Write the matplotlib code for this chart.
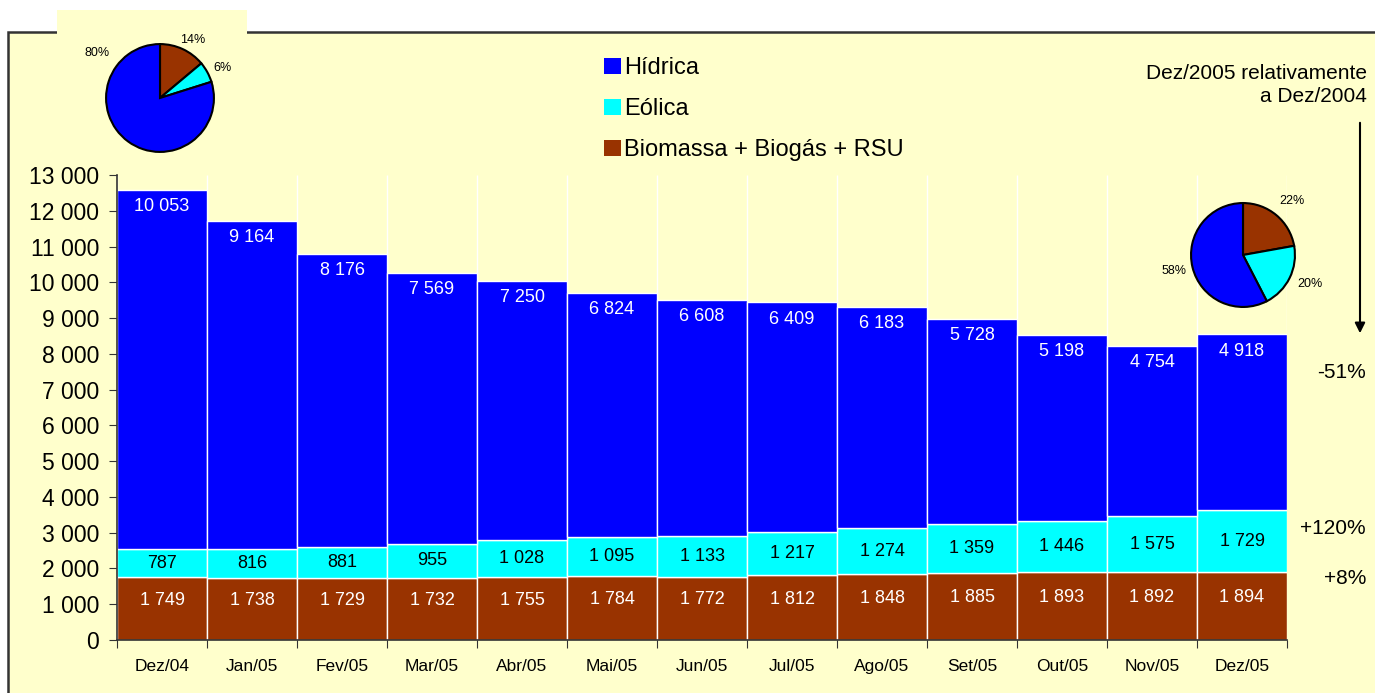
import numpy as np
import matplotlib
matplotlib.use("Agg")
import matplotlib.pyplot as plt
from matplotlib.patches import Rectangle, Patch
from matplotlib.ticker import FuncFormatter

plt.rcParams['font.family'] = ['Liberation Sans', 'DejaVu Sans']

months = ["Dez/04", "Jan/05", "Fev/05", "Mar/05", "Abr/05", "Mai/05", "Jun/05",
          "Jul/05", "Ago/05", "Set/05", "Out/05", "Nov/05", "Dez/05"]
biomassa = [1749, 1738, 1729, 1732, 1755, 1784, 1772, 1812, 1848, 1885, 1893, 1892, 1894]
eolica = [787, 816, 881, 955, 1028, 1095, 1133, 1217, 1274, 1359, 1446, 1575, 1729]
hidrica = [10053, 9164, 8176, 7569, 7250, 6824, 6608, 6409, 6183, 5728, 5198, 4754, 4918]
names = ["Hídrica", "Eólica", "Biomassa + Biogás + RSU"]

BG = "#FFFFCC"
C_HID = "#0000FF"
C_EOL = "#00FFFF"
C_BIO = "#993300"

W, H = 1375, 693
fig = plt.figure(figsize=(W / 100, H / 100), dpi=100, facecolor="white")

# background panel with border, plus the tab holding the first pie
fig.patches.append(Rectangle((8 / W, -0.1), 1.2, 1 - 32 / H + 0.1, transform=fig.transFigure,
                             facecolor=BG, edgecolor="#333333", lw=1.8, zorder=-2))
fig.patches.append(Rectangle((57 / W, 1 - 34 / H), 190 / W, 24 / H, transform=fig.transFigure,
                             facecolor=BG, edgecolor="none", zorder=-1))

ax = fig.add_axes([117 / W, 1 - 640 / H, 1170 / W, 465 / H])
ax.set_facecolor("none")

x = np.arange(len(months))
bio = np.array(biomassa)
eol = np.array(eolica)
hid = np.array(hidrica)

# white separators between categories, running up the whole plot area
ax.vlines(np.arange(len(months) + 1) - 0.5, 0, 13000, colors="white", lw=1, zorder=1)

ax.bar(x, bio, width=1, color=C_BIO, edgecolor="white", lw=1, zorder=2)
ax.bar(x, eol, width=1, bottom=bio, color=C_EOL, edgecolor="white", lw=1, zorder=2)
ax.bar(x, hid, width=1, bottom=bio + eol, color=C_HID, edgecolor="white", lw=1, zorder=2)

def fmt(v):
    return f"{v:,}".replace(",", " ")

for i in range(len(months)):
    ax.annotate(fmt(bio[i]), (x[i], bio[i] / 2), xytext=(0, 6), textcoords="offset points",
                ha="center", va="center", color="white", fontsize=13, zorder=3)
    ax.annotate(fmt(eol[i]), (x[i], bio[i] + eol[i] / 2), ha="center", va="center",
                color="black", fontsize=13, zorder=3)
    ax.annotate(fmt(hid[i]), (x[i], bio[i] + eol[i] + hid[i]), xytext=(0, -12),
                textcoords="offset points", ha="center", va="center", color="white",
                fontsize=13, zorder=3)

ax.set_xlim(-0.5, len(months) - 0.5)
ax.set_ylim(0, 13000)
ax.set_yticks(np.arange(0, 13001, 1000))
ax.yaxis.set_major_formatter(FuncFormatter(lambda v, p: fmt(int(v))))
ax.set_xticks(np.arange(len(months) + 1) - 0.5)
ax.set_xticklabels([])
ax.set_xticks(x, minor=True)
ax.set_xticklabels(months, minor=True, fontsize=12.5)
ax.tick_params(axis="x", which="major", direction="out", length=6, color="#333333")
ax.tick_params(axis="x", which="minor", length=0, pad=14)
ax.tick_params(axis="y", direction="out", length=6, color="#333333", labelsize=16.5, pad=7)
for s in ["top", "right"]:
    ax.spines[s].set_visible(False)
for s in ["left", "bottom"]:
    ax.spines[s].set_color("#333333")
    ax.spines[s].set_linewidth(1.2)

handles = [Patch(facecolor=c, edgecolor="none") for c in (C_HID, C_EOL, C_BIO)]
fig.legend(handles, names, loc="upper left", bbox_to_anchor=(583 / W, 1 - 36 / H),
           frameon=False, fontsize=17, handlelength=0.7, handleheight=0.7,
           handletextpad=0.15, labelspacing=0.8)

# pies for first and last month
def draw_pie(cx, cy, r, i, label_pos):
    pax = fig.add_axes([(cx - r) / W, 1 - (cy + r) / H, 2 * r / W, 2 * r / H])
    vals = [bio[i], eol[i], hid[i]]
    pax.pie(vals, colors=[C_BIO, C_EOL, C_HID], startangle=90, counterclock=False,
            wedgeprops=dict(edgecolor="black", lw=1.5))
    pax.set_aspect("equal")
    pax.set_xlim(-1.02, 1.02)
    pax.set_ylim(-1.02, 1.02)
    tot = sum(vals)
    for v, (lx, ly) in zip(vals, label_pos):
        fig.text(lx / W, 1 - ly / H, f"{round(100 * v / tot)}%", ha="center", va="center",
                 fontsize=9)

draw_pie(160, 98, 55, 0, [(193, 40), (222, 68), (97, 53)])
draw_pie(1243, 255, 53, 12, [(1292, 201), (1310, 284), (1174, 271)])

fig.text(1367 / W, 1 - 64 / H, "Dez/2005 relativamente\na Dez/2004", ha="right", va="top",
         fontsize=15, linespacing=1.3)
ax.annotate("", xy=(1360 / W, 1 - 336 / H), xytext=(1360 / W, 1 - 120 / H),
            xycoords="figure fraction", textcoords="figure fraction",
            arrowprops=dict(arrowstyle="-|>", color="black", lw=1.5, mutation_scale=15))

changes = [hid[-1] / hid[0] - 1, eol[-1] / eol[0] - 1, bio[-1] / bio[0] - 1]
ys = [372, 528, 578]
for c, yy in zip(changes, ys):
    fig.text(1366 / W, 1 - yy / H, f"{c * 100:+.0f}%", ha="right", va="center", fontsize=15)

fig.savefig("out.png", dpi=100, facecolor=fig.get_facecolor())
